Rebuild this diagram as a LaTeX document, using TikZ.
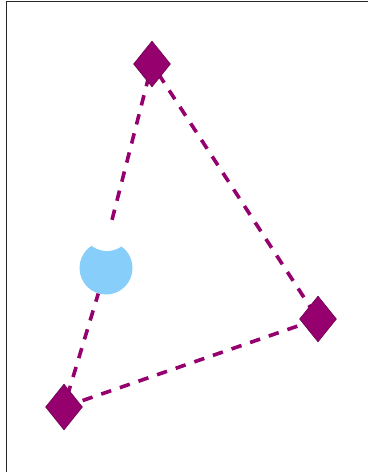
\documentclass[tikz,border=0pt]{standalone}
\usetikzlibrary{shapes.geometric,calc,backgrounds}
\definecolor{dpurple}{RGB}{150,0,110}
\definecolor{dpurpleb}{RGB}{100,0,75}
\definecolor{lblue}{RGB}{135,206,250}
\tikzset{
  gem/.style={shape=diamond, fill=dpurple, draw=dpurpleb, line width=0.5pt, inner sep=0pt, aspect=0.8, minimum width=37pt, minimum height=46pt},
  link/.style={draw=dpurple, line width=3.6pt, dash pattern=on 10.5pt off 9.2pt},
}
\begin{document}
\begin{tikzpicture}[x=1pt,y=-1pt]
\useasboundingbox (0,0) rectangle (368,472);
\node[gem] (t) at (152,64) {};
\node[gem] (l) at (64,407) {};
\node[gem] (r) at (318,319) {};
\begin{pgfonlayer}{background}
\fill[white] (0,0) rectangle (368,472);
\draw[line width=1pt, black!85] (6.5,472) -- (6.5,1.5) -- (368,1.5);
\node[circle, fill=lblue, minimum size=53pt, inner sep=0pt] (c) at (106,268) {};
\node[circle, fill=white, minimum size=50pt, inner sep=0pt] (w) at (107,226) {};
\coordinate (a) at ($(t.center)!0.455!(l.center)$);
\draw[link, dash phase=7.2pt] (t.center) -- (a);
\draw[link, dash phase=8.1pt] (l.center) -- (c);
\draw[link, dash phase=7.9pt] (t.center) -- (r.center);
\draw[link, dash phase=0pt] (l.center) -- (r.center);
\end{pgfonlayer}
\end{tikzpicture}
\end{document}
